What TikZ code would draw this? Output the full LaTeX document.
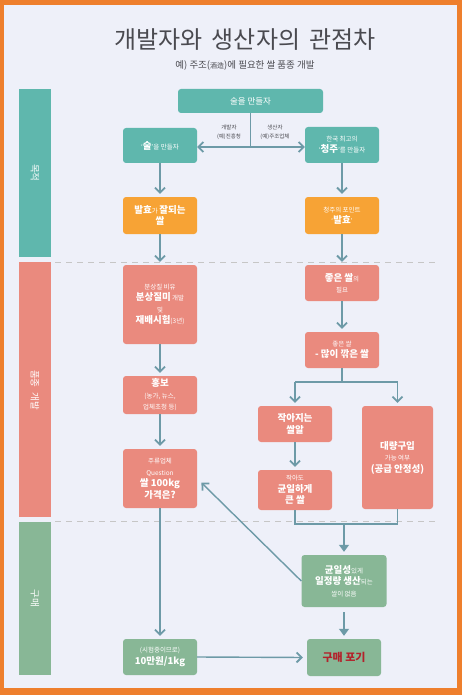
\documentclass[tikz,border=0pt]{standalone}
\usepackage{fontspec}
\setmainfont{Noto Sans CJK KR}
\usetikzlibrary{arrows.meta}
\definecolor{bgcol}{HTML}{EEF0F9}
\definecolor{framecol}{HTML}{EE7F2D}
\definecolor{tealcol}{HTML}{5FB7AD}
\definecolor{orangecol}{HTML}{F7A335}
\definecolor{pinkcol}{HTML}{EA8A7E}
\definecolor{greencol}{HTML}{88B796}
\definecolor{linkcol}{HTML}{6D9AA7}
\definecolor{titlecol}{HTML}{4A4A50}
\definecolor{giveupcol}{HTML}{B3222B}
\newcommand{\kb}[1]{{\fontsize{9.5}{11}\selectfont\bfseries #1}}
\tikzset{
  box/.style={rounded corners=3pt, text=white, align=center, inner sep=1pt,
    font=\fontsize{6.5}{11.5}\selectfont},
  tealbox/.style={box, fill=tealcol},
  orangebox/.style={box, fill=orangecol},
  pinkbox/.style={box, fill=pinkcol},
  greenbox/.style={box, fill=greencol},
  link/.style={draw=linkcol, line width=1.4pt, -{Straight Barb[length=5pt,width=10pt,line width=1.8pt]}},
  filllink/.style={draw=linkcol, line width=1.4pt, -{Triangle[length=7pt,width=10pt]}},
  plain/.style={draw=linkcol, line width=1.4pt},
  sidebar/.style={text=white, font=\fontsize{9.5}{10}\selectfont},
  sep/.style={draw=gray!45, dashed, dash pattern=on 6pt off 5pt, line width=0.8pt}
}
\begin{document}
\begin{tikzpicture}[x=1pt, y=-1pt]
\useasboundingbox (0,0) rectangle (462,695);
\fill[framecol] (0,0) rectangle (462,695);
\fill[bgcol] (4,5) rectangle (457,688);

\node[text=titlecol, font=\fontsize{24}{26}\selectfont] (title) at (245,40) {개발자와\, 생산자의\, 관점차};
\node[text=titlecol, font=\fontsize{9.5}{11}\selectfont] (subtitle) at (245,66) {예) 주조({\fontsize{7}{8}\selectfont 酒造})에 필요한 쌀 품종 개발};

\fill[tealcol] (19,89) rectangle (51,257);
\fill[pinkcol] (19,262) rectangle (51,517);
\fill[greencol] (19,522) rectangle (51,675);
\node[sidebar, rotate=-90] (goal) at (35,173) {목적};
\node[sidebar, rotate=-90] (develop) at (35,390) {품종\; 개발};
\node[sidebar, rotate=-90] (buy) at (35,598) {구매};
\draw[sep] (55,262) -- (435,262);
\draw[sep] (55,521) -- (435,521);

\node[tealbox, minimum width=145pt, minimum height=24pt, font=\fontsize{8.5}{10}\selectfont] (make) at (250.5,101) {술을 만들자};
\node[tealbox, minimum width=74pt, minimum height=35pt] (l1) at (160,145.5) {‘\kb{술}’을 만들자};
\node[tealbox, minimum width=74pt, minimum height=36pt] (r1) at (342,145) {한국 최고의\\‘\kb{청주}’를 만들자};
\node[orangebox, minimum width=74pt, minimum height=37pt] (l2) at (160,215.5) {\kb{발효}가 \kb{잘되는}\\\kb{쌀}};
\node[orangebox, minimum width=74pt, minimum height=37pt] (r2) at (342,215.5) {청주의 포인트\\‘\kb{발효}’};
\node[pinkbox, minimum width=74pt, minimum height=79pt] (l3) at (160,304.5) {분상질 비유\\\kb{분상질미} 개발\\및\\\kb{재배시험}(3년)};
\node[pinkbox, minimum width=74pt, minimum height=36pt] (r3) at (342,283) {\kb{좋은 쌀}의\\필요};
\node[pinkbox, minimum width=74pt, minimum height=36pt] (r4) at (342,350) {좋은 쌀\\\kb{- 많이 깎은 쌀}};
\node[pinkbox, minimum width=74pt, minimum height=38pt] (l4) at (160,395) {\kb{홍보}\\(농가, 뉴스,\\업체초청 등)};
\node[pinkbox, minimum width=74pt, minimum height=36pt] (r5) at (295,424) {\kb{작아지는}\\\kb{쌀알}};
\node[pinkbox, minimum width=71pt, minimum height=103pt] (r6) at (397.5,457.5) {\kb{대량구입}\\가능 여부\\\kb{(공급 안정성)}};
\node[pinkbox, minimum width=74pt, minimum height=59pt] (l5) at (160,478.5) {주류업체\\Question\\\kb{쌀 100kg}\\\kb{가격은?}};
\node[pinkbox, minimum width=74pt, minimum height=40pt] (r7) at (295,490) {작아도\\\kb{균일하게}\\\kb{큰 쌀}};
\node[greenbox, minimum width=85pt, minimum height=52pt] (g1) at (344,581) {\kb{균일성}있게\\\kb{일정량 생산}되는\\쌀이 없음};
\node[greenbox, minimum width=74pt, minimum height=36pt] (l6) at (160,657) {(시험중이므로)\\\kb{10만원/1kg}};
\node[greenbox, minimum width=74pt, minimum height=37pt, text=giveupcol, font=\fontsize{11}{12}\selectfont\bfseries] (giveup) at (344,657.5) {구매 포기};

\coordinate (split) at (250.5,147);
\coordinate (fork) at (342,382);
\coordinate (join) at (344,524);
\draw[plain] (make.south) -- (split);
\draw[link] (split) -- (split -| l1.east);
\draw[link] (split) -- (split -| r1.west);
\node[text=titlecol, font=\fontsize{5.5}{9}\selectfont, align=center] (devlabel) at (229,132) {개발자\\(예)진흥청};
\node[text=titlecol, font=\fontsize{5.5}{9}\selectfont, align=center] (prodlabel) at (275,132) {생산자\\(예)주조업체};

\draw[link, shorten >=3pt] (l1.south) -- (l2.north);
\draw[link, shorten >=3pt] (r1.south) -- (r2.north);
\draw[link, shorten >=3pt] (l2.south) -- (l3.north);
\draw[link, shorten >=3pt] (r2.south) -- (r3.north);
\draw[link, shorten >=3pt] (r3.south) -- (r4.north);
\draw[plain] (r4.south) -- (fork);
\draw[plain] (fork -| r5.north) -- (fork -| r6.north);
\draw[link, shorten >=3pt] (fork -| r5.north) -- (r5.north);
\draw[link, shorten >=3pt] (fork -| r6.north) -- (r6.north);
\draw[link, shorten >=3pt] (r5.south) -- (r7.north);
\draw[plain] (r7.south) -- (join -| r7.south) -- (join -| r6.south) -- (r6.south);
\draw[filllink, shorten >=3pt] (join) -- (join |- g1.north);
\draw[filllink, shorten <=5pt, shorten >=3pt] (g1.south) -- (giveup.north);
\draw[link, shorten >=3pt] (l3.south) -- (l4.north);
\draw[link, shorten >=3pt] (l4.south) -- (l5.north);
\draw[link, shorten >=3pt] (l5.south) -- (l6.north);
\draw[link, shorten >=4pt] (l6.east) -- (giveup.west);
\draw[link, shorten >=6pt] (g1.west) -- (l5.east);
\end{tikzpicture}
\end{document}
